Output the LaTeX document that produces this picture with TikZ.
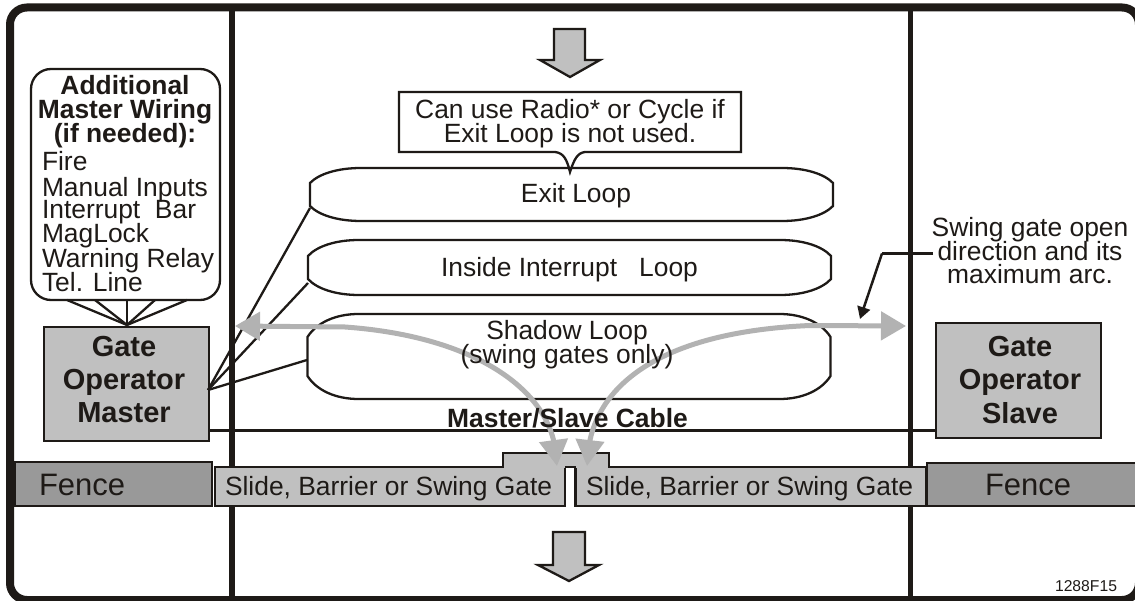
\documentclass[tikz,border=0pt]{standalone}
\usepackage{fontspec}
\setmainfont{Liberation Sans}
\usetikzlibrary{arrows.meta,calc}
\definecolor{ink}{HTML}{1E1A17}
\definecolor{boxgray}{HTML}{C0C0C0}
\definecolor{fencegray}{HTML}{999999}
\definecolor{arcgray}{HTML}{B2B2B2}
\newcommand{\fs}[2]{\fontsize{#1}{#2}\selectfont}
% #1 = node name, #2 = height of the corner curve
\newcommand{\loopoutline}[2]{%
  \draw[looppath] ($(#1.north west)+(0,#2)$) .. controls +(9,-0.62*#2) and ($(#1.north west)+(28,0)$) .. ($(#1.north west)+(51,0)$)
    -- ($(#1.north east)+(-51,0)$) .. controls ($(#1.north east)+(-28,0)$) and ($(#1.north east)+(-9,0.38*#2)$) .. ($(#1.north east)+(0,#2)$)
    -- ($(#1.south east)+(0,-#2)$) .. controls ($(#1.south east)+(-9,-0.38*#2)$) and ($(#1.south east)+(-28,0)$) .. ($(#1.south east)+(-51,0)$)
    -- ($(#1.south west)+(51,0)$) .. controls ($(#1.south west)+(28,0)$) and ($(#1.south west)+(9,-0.38*#2)$) .. ($(#1.south west)+(0,-#2)$) -- cycle;}
\tikzset{
  x=1pt,y=-1pt,
  every node/.style={inner sep=0pt,outer sep=0pt,text=ink},
  frameline/.style={draw=ink,line width=5.5pt},
  wire/.style={draw=ink,line width=2.3pt},
  looppath/.style={draw=ink,line width=2.3pt},
  loopbox/.style={minimum width=523pt,text=ink},
  graybox/.style={draw=ink,fill=boxgray,line width=2.3pt},
  fencebox/.style={draw=ink,fill=fencegray,line width=2.3pt},
  arc/.style={draw=arcgray,line width=5pt,{Triangle[length=26pt,width=28pt]}-{Triangle[length=25pt,width=28pt]}},
  blockarrow/.style={draw=ink,fill=boxgray,line width=2.3pt,line join=miter},
  label/.style={font=\fs{26.4}{24},align=center},
  boldlabel/.style={font=\fs{29}{33}\bfseries,align=center},
}
\begin{document}
\begin{tikzpicture}
\useasboundingbox (0,0) rectangle (1135,601);
\fill[white] (0,0) rectangle (1135,601);
% outer frame
\draw[draw=ink,line width=8pt,rounded corners=17pt] (10,7.5) rectangle (1139,600);
\draw[frameline] (232,7) -- (232,600);
\draw[frameline] (910.5,7) -- (910.5,600);

% block arrows
\draw[blockarrow] (554,29) -- (585,29) -- (585,60) -- (600,60) -- (570,77) -- (540,60) -- (554,60) -- cycle;
\draw[blockarrow] (553,532) -- (585,532) -- (585,565) -- (599,565) -- (569,581) -- (538,565) -- (553,565) -- cycle;

% callout
\node[draw=none,minimum width=342pt,minimum height=60pt] (note) at (570,122) {};
\coordinate (notetip) at (570,172);
\draw[draw=ink,line width=2.3pt,fill=white] (note.north west) -- (note.north east) -- (note.south east) -- (585,152)
  .. controls (577,153) and (574,160) .. (notetip) .. controls (567,160) and (564,153) .. (555,152) -- (note.south west) -- cycle;

% loops
\node[loopbox,minimum height=53pt] (exit) at (571.5,194.5) {};
\node[loopbox,minimum height=55pt] (inside) at (569.5,267.5) {};
\node[loopbox,minimum height=85pt] (shadow) at (569,356.5) {};
\loopoutline{exit}{15}
\loopoutline{inside}{16}
\loopoutline{shadow}{23}

% wiring box and operators
\node[draw=ink,line width=2.3pt,rounded corners=20pt,minimum width=189pt,minimum height=231pt] (wiring) at (125.5,184.5) {};
\node[graybox,minimum width=165pt,minimum height=114pt] (master) at (126.5,384) {};
\node[graybox,minimum width=165pt,minimum height=115pt] (slave) at (1018.5,380.5) {};

% connectors
\coordinate (mastertop) at (127,325);
\coordinate (masterout) at (208,390);
\foreach \xx in {67,95,127,155,187} \draw[wire] (\xx,300) -- (mastertop);
\draw[wire] (masterout) -- (310,208);
\draw[wire] (masterout) -- (308,283);
\draw[wire] (masterout) -- (307,360);
\coordinate (cableA) at (master.east |- 0,430);
\coordinate (cableB) at (slave.west |- 0,430);
\draw[wire,line width=3pt] (cableA) -- (cableB);

% fences and gates
\node[fencebox,minimum width=197pt,minimum height=44pt] (fenceL) at (113.5,484) {};
\node[fencebox,minimum width=210pt,minimum height=43pt] (fenceR) at (1032,484.5) {};
\draw[graybox] (215,467) rectangle (565,506);
\draw[graybox] (575.5,467) rectangle (926,506);
\draw[graybox] (503,467) -- (503,453) -- (609,453) -- (609,467);
\fill[boxgray] (504.2,454.2) rectangle (607.8,468.1);
\draw[ink,line width=2.3pt] (565,467) -- (575.5,467);
\node[minimum width=350pt,minimum height=39pt] (gateL) at (390,486.5) {};
\node[minimum width=350pt,minimum height=39pt] (gateR) at (751,486.5) {};

% swing arcs
\coordinate (arcL) at (235,326);
\coordinate (arcR) at (906,326);
\coordinate (tipL) at (557,466);
\coordinate (tipR) at (587,466);
\draw[arc] (tipL) -- (553.5,440) .. controls (540,385) and (470,336) .. (345,327) -- (arcL);
\draw[arc] (tipR) -- (590,440) .. controls (602,385) and (660,332) .. (810,325.5) -- (arcR);

% leader to arc
\coordinate (leaderbend) at (882,253.5);
\coordinate (leaderend) at (860,319);
\draw[draw=ink,line width=3pt] (933,253.5) -- (leaderbend);
\draw[draw=ink,line width=2.5pt,-{Triangle[length=12pt,width=13pt]}] (leaderbend) -- (leaderend);

% texts
\node[label,anchor=base] at (570,119) {Can use Radio* or Cycle if};
\node[label,anchor=base] at (570,143) {Exit Loop is not used.};
\node[label,anchor=base] at (576,203) {Exit Loop};
\node[label,anchor=base] at (569.5,277) {Inside Interrupt\ \ \ Loop};
\node[label,anchor=base] at (567,340) {Shadow Loop};
\node[label,anchor=base] at (567,363) {(swing gates only)};
\node[label,font=\fs{26.4}{24}\bfseries,anchor=base] at (567.5,428) {Master/Slave Cable};
\node[label,font=\fs{26.4}{24}\bfseries,anchor=base] at (125,95) {Additional};
\node[label,font=\fs{26.4}{24}\bfseries,anchor=base] at (125,119) {Master Wiring};
\node[label,font=\fs{26.4}{24}\bfseries,anchor=base] at (125,143) {(if needed):};
\node[label,anchor=base west] at (42,171) {Fire};
\node[label,anchor=base west] at (42,197) {Manual Inputs};
\node[label,anchor=base west] at (42,219) {Interrupt\ \ Bar};
\node[label,anchor=base west] at (42,243) {MagLock};
\node[label,anchor=base west] at (42,268) {Warning Relay};
\node[label,anchor=base west] at (42,292) {Tel. Line};
\node[boldlabel,anchor=base] at (124,357) {Gate};
\node[boldlabel,anchor=base] at (124,389) {Operator};
\node[boldlabel,anchor=base] at (124,422) {Master};
\node[boldlabel,anchor=base] at (1020,357) {Gate};
\node[boldlabel,anchor=base] at (1020,390) {Operator};
\node[boldlabel,anchor=base] at (1020,423) {Slave};
\node[font=\fs{31}{31},anchor=base west] at (39,495) {Fence};
\node[font=\fs{31}{31},anchor=base west] at (985,495) {Fence};
\node[label,anchor=base west] at (225,495) {Slide, Barrier or Swing Gate};
\node[label,anchor=base west] at (586,495) {Slide, Barrier or Swing Gate};
\node[label,anchor=base] at (1030,237) {Swing gate open};
\node[label,anchor=base] at (1030,261) {direction and its};
\node[label,anchor=base] at (1030,284) {maximum arc.};
\node[font=\fs{15.7}{16},anchor=base east] at (1117,591) {1288F15};
\end{tikzpicture}
\end{document}
